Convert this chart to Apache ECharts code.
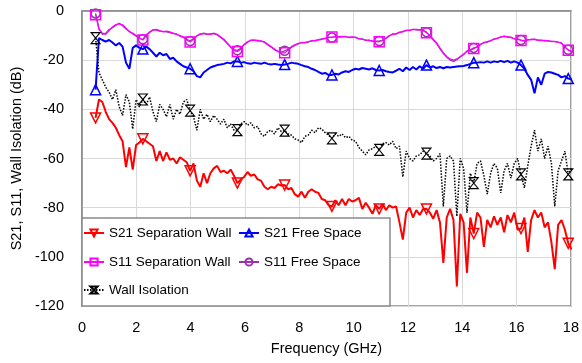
<!DOCTYPE html>
<html>
<head>
<meta charset="utf-8">
<script src="https://cdn.jsdelivr.net/npm/echarts@6/dist/echarts.min.js"></script>
<style>
html,body{margin:0;padding:0;background:#fff;}
#chart{width:582px;height:363px;}
</style>
</head>
<body>
<div id="chart"></div>
<script>
// Frequency sampling grid (GHz): start and step; markers every 14th sample
const FREQ_START = 0.5;
const FREQ_STEP = 0.1243;
const MARK_EVERY = 14;

const X_TICKS = [0, 2, 4, 6, 8, 10, 12, 14, 16, 18];
const Y_TICKS = [-120, -100, -80, -60, -40, -20, 0];

const SERIES_NAMES = ['S21 Separation Wall', 'S21 Free Space', 'S11 Separation Wall', 'S11 Free Space', 'Wall Isolation'];

const S21_SEPARATION_WALL = [
  -43.5,-36,-37,-41,-44,-45.5,-47.5,-50.5,-53,-63.5,
  -55.5,-64.5,-54.5,-53.5,-52,-53,-54,-55,-61,-57,
  -61,-57.5,-60.5,-60,-62,-59.5,-60.5,-61.5,-65,-62,
  -69,-71.5,-66,-70,-66,-64,-63,-65.5,-65,-66,
  -64.5,-67,-70,-68.5,-67.5,-65.5,-67,-66.5,-68.5,-69,
  -71.5,-72.5,-71.5,-72,-70.5,-71,-70.8,-72.5,-72,-74.5,
  -75.5,-73.5,-76,-73.5,-72.5,-73.5,-74,-76.5,-77,-79,
  -79.5,-77,-79,-76.5,-79,-76.5,-77.5,-77,-76,-80.5,
  -78,-80,-82.5,-79,-80.5,-78.5,-81,-79,-80,-79.5,
  -86,-93,-82,-80,-84,-81,-83,-80.5,-80.5,-82,
  -84.5,-81,-86,-102.5,-84,-80.5,-85,-112,-82.5,-86,
  -106.5,-84,-90.5,-82,-84,-96,-85,-88,-83.5,-87,
  -84,-90,-83,-86,-82,-89,-88.5,-84,-98,-85,
  -81,-84,-82,-88,-86,-94,-105,-87,-85,-89,
  -94.5,-97
];

const S21_FREE_SPACE = [
  -32,-11,-11.8,-12.5,-11.8,-12.8,-14,-13,-14.5,-21,
  -23.5,-15,-14,-15,-15.5,-14.5,-15.5,-17,-18.5,-17,
  -18,-17.5,-19.5,-19,-20.5,-21.5,-22.5,-23,-23.5,-24.5,
  -26.5,-27,-25,-24,-23,-22.5,-22,-21.8,-21.5,-21,
  -21.3,-20.5,-20.5,-21,-20.8,-21.3,-21.5,-21,-21.3,-21.5,
  -21,-21.5,-21.8,-21.5,-21.8,-22,-21.8,-21.5,-21,-21.3,
  -21.5,-22,-22.5,-22.8,-23.5,-24,-24.8,-25.5,-25.2,-26,
  -26,-25.5,-25.8,-25,-24.5,-24.8,-24,-23.5,-23.8,-23.2,
  -23.5,-23.8,-23.3,-24,-24.2,-24,-24.5,-24.8,-25,-24.3,
  -23.5,-24.5,-23,-24,-22.8,-23.8,-22.5,-23.5,-22,-23,
  -22.5,-23.2,-22.8,-23.3,-22.8,-23,-22.8,-22.6,-22.5,-22.4,
  -22,-21.5,-21,-21,-20.8,-21,-20.5,-21,-20.5,-20.8,
  -20.3,-20.8,-20.3,-21,-20.5,-21,-22,-23.5,-26,-28,
  -33.5,-27,-30,-25.5,-24.8,-25,-25.5,-26,-27,-26.5,
  -27.5,-27.8
];

const S11_SEPARATION_WALL = [
  -1.5,-7.5,-9,-9.5,-8,-6.5,-5.5,-5.2,-5.6,-7,
  -8.5,-9,-10,-11,-11.8,-10,-8.5,-7.8,-7.5,-8,
  -8.5,-8.2,-8.5,-9,-9.5,-10,-10.5,-11.8,-12.6,-11.5,
  -10,-9.5,-9,-9.3,-9.5,-9,-9.5,-10.5,-11.5,-13,
  -14.5,-16,-16.5,-15.5,-13.5,-12.5,-12,-11.8,-12,-12.3,
  -12.5,-13.5,-14.5,-15.5,-16.5,-17,-17,-16,-14.5,-13.8,
  -13.2,-13,-12.8,-12.5,-12.2,-12,-11.8,-11.5,-11,-10.8,
  -10.6,-10.5,-10.4,-10.3,-10.5,-10.6,-10.5,-10.8,-11.2,-11.5,
  -11.8,-12,-12.2,-12.4,-12.5,-12,-11,-10,-9.5,-9.2,
  -8.8,-8.3,-8,-7.8,-7.6,-7.5,-7.6,-8,-8.8,-10,
  -11.5,-13,-15,-17,-18.5,-19.5,-20,-19.5,-18.5,-17.5,
  -16.5,-16,-15.3,-14.5,-13.5,-13,-12.5,-12,-11.5,-11,
  -10.5,-10.3,-10.4,-10.8,-11.2,-11.5,-12,-12.2,-11.8,-11.5,
  -11.6,-11.8,-12,-12,-12.2,-12.3,-12.5,-12.6,-13.2,-14.5,
  -16,-16.3
];

const S11_FREE_SPACE = [
  -1.0,-7,-9.5,-9,-7.5,-6.8,-5.8,-5.0,-6,-7.3,
  -8.2,-9.4,-10.3,-11.2,-11.5,-9.6,-8.8,-7.6,-7.8,-8.2,
  -8.3,-8.5,-8.8,-9.2,-9.3,-10.3,-10.8,-11.5,-12.2,-11.2,
  -10.2,-9.3,-9.2,-9.5,-9.3,-9.2,-9.7,-10.8,-11.8,-13.3,
  -14.8,-15.7,-16,-15.2,-13.8,-12.8,-11.8,-12,-12.2,-12.1,
  -12.8,-13.8,-14.7,-15.8,-16.3,-16.7,-16.2,-15.6,-14.8,-14,
  -13.4,-12.8,-13,-12.7,-12,-12.2,-11.6,-11.3,-11.2,-10.6,
  -10.8,-10.3,-10.6,-10.5,-10.3,-10.8,-10.7,-10.6,-11.4,-11.3,
  -12,-11.8,-12.4,-12.2,-12.2,-11.8,-11.2,-10.2,-9.3,-9.4,
  -8.6,-8.5,-7.8,-8,-7.4,-7.7,-7.8,-7.8,-8.6,-10.2,
  -11.8,-13.3,-15.4,-17.3,-18.8,-20,-20.5,-19.8,-18.7,-17.8,
  -16.2,-15.8,-15,-14.8,-13.6,-12.8,-12.7,-12.2,-11.3,-11.2,
  -10.7,-10.2,-10.6,-10.6,-11.4,-11.3,-11.8,-12,-11.6,-11.7,
  -11.4,-12,-11.8,-12.2,-12,-12.5,-12.3,-12.8,-13,-14.8,
  -15.8,-16.5
];

const WALL_ISOLATION = [
  -11,-25,-28,-31,-33,-36,-32,-39,-42.5,-34,
  -37,-48,-36,-39,-36,-38,-35,-41,-45,-38,
  -40,-43,-38,-44,-40,-42,-37,-36,-40.5,-43,
  -48.5,-40,-44,-42,-45,-42.5,-44,-46,-44,-47.5,
  -46,-48.5,-48.5,-46,-45,-46.5,-45.5,-47.5,-47,-50,
  -51,-49,-48.5,-50,-47.5,-49,-48.7,-50,-50.5,-52,
  -52.5,-53.5,-51,-50.5,-48.5,-49.5,-47.5,-48,-49.5,-50.5,
  -51.8,-50,-51,-50,-51.5,-51,-52.5,-53,-55.5,-57,
  -58.5,-56.5,-56,-55,-56.5,-54,-53.5,-54.5,-53,-56,
  -55,-67.5,-57,-60,-61,-59,-58.5,-57,-58,-59,
  -61,-60,-58,-79.5,-60,-59,-61,-83.5,-60,-64,
  -82,-66,-70,-62,-61,-67,-74.5,-66,-62,-64,
  -74,-65,-62,-68,-62,-60,-66.5,-72,-63,-55,
  -48.5,-57,-52,-60,-55,-62,-79.5,-65,-61,-57,
  -66.5,-64
];

const FONT = "'Liberation Sans', Arial, sans-serif";
const HOURGLASS = 'path://M0,0L10,0L0,12L10,12Z';

function build(vals) {
  return vals.map(function (v, i) {
    const x = +(FREQ_START + i * FREQ_STEP).toFixed(4);
    return (i % MARK_EVERY === 0) ? { value: [x, v] } : { value: [x, v], symbol: 'none' };
  });
}

function line(name, vals, color, width, symbol, size, extra) {
  return Object.assign({
    name: name,
    type: 'line',
    data: build(vals),
    symbol: symbol,
    symbolSize: size,
    showSymbol: true,
    showAllSymbol: true,
    lineStyle: { color: color, width: width },
    itemStyle: { color: 'rgba(255,255,255,0)', borderColor: color, borderWidth: 1.5 },
    emphasis: { disabled: true },
    animation: false,
    clip: true
  }, extra || {});
}

const chart = echarts.init(document.getElementById('chart'), null, { renderer: 'canvas' });

const legendBase = {
  padding: 0, itemWidth: 20, itemHeight: 9, selectedMode: false, z: 20,
  textStyle: { fontFamily: FONT, fontSize: 13.5, color: '#000', lineHeight: 16 }
};

chart.setOption({
  backgroundColor: '#fff',
  animation: false,
  grid: { left: 82, right: 7, top: 11, bottom: 57, show: true, borderColor: '#8a8a8a', borderWidth: 1.5 },
  xAxis: {
    type: 'value', min: X_TICKS[0], max: X_TICKS[X_TICKS.length - 1], interval: 2,
    name: 'Frequency (GHz)', nameLocation: 'middle', nameGap: 35,
    nameTextStyle: { fontFamily: FONT, fontSize: 14.5, color: '#000' },
    axisLine: { show: true, lineStyle: { color: '#8a8a8a', width: 1.5 } },
    axisTick: { show: false },
    axisLabel: { fontFamily: FONT, fontSize: 14.5, color: '#000', margin: 14 },
    splitLine: { show: true, lineStyle: { color: '#d9d9d9', width: 1 } }
  },
  yAxis: {
    type: 'value', min: Y_TICKS[0], max: Y_TICKS[Y_TICKS.length - 1], interval: 20,
    name: 'S21, S11, Wall Isolation (dB)', nameLocation: 'middle', nameGap: 53,
    nameTextStyle: { fontFamily: FONT, fontSize: 14.5, color: '#000' },
    axisLine: { show: true, lineStyle: { color: '#8a8a8a', width: 1.5 } },
    axisTick: { show: false },
    axisLabel: { fontFamily: FONT, fontSize: 14.5, color: '#000', margin: 18 },
    splitLine: { show: true, lineStyle: { color: '#d9d9d9', width: 1 } }
  },
  graphic: [{
    type: 'rect', z: 10,
    shape: { x: 82, y: 218, width: 308, height: 88 },
    style: { fill: '#fff', stroke: '#8a8a8a', lineWidth: 1.5 }
  }],
  legend: [
    Object.assign({}, legendBase, { data: [SERIES_NAMES[0]], left: 83, top: 225 }),
    Object.assign({}, legendBase, { data: [SERIES_NAMES[1]], left: 238, top: 225 }),
    Object.assign({}, legendBase, { data: [SERIES_NAMES[2]], left: 83, top: 254 }),
    Object.assign({}, legendBase, { data: [SERIES_NAMES[3]], left: 238, top: 254 }),
    Object.assign({}, legendBase, { data: [SERIES_NAMES[4]], left: 83, top: 282 })
  ],
  series: [
    line(SERIES_NAMES[0], S21_SEPARATION_WALL, '#ff0000', 2, 'triangle', 10, { symbolRotate: 180 }),
    line(SERIES_NAMES[1], S21_FREE_SPACE, '#0000ff', 2, 'triangle', 10),
    line(SERIES_NAMES[3], S11_FREE_SPACE, '#9933aa', 1.2, 'circle', 9),
    line(SERIES_NAMES[2], S11_SEPARATION_WALL, '#ff00ff', 1.3, 'rect', 10),
    line(SERIES_NAMES[4], WALL_ISOLATION, '#000000', 1.5, HOURGLASS, [9, 11], {
      lineStyle: { color: '#000', width: 1.5, type: [1.5, 1.5] },
      itemStyle: { color: 'rgba(255,255,255,0)', borderColor: '#000', borderWidth: 1.1 }
    })
  ]
});
</script>
</body>
</html>
